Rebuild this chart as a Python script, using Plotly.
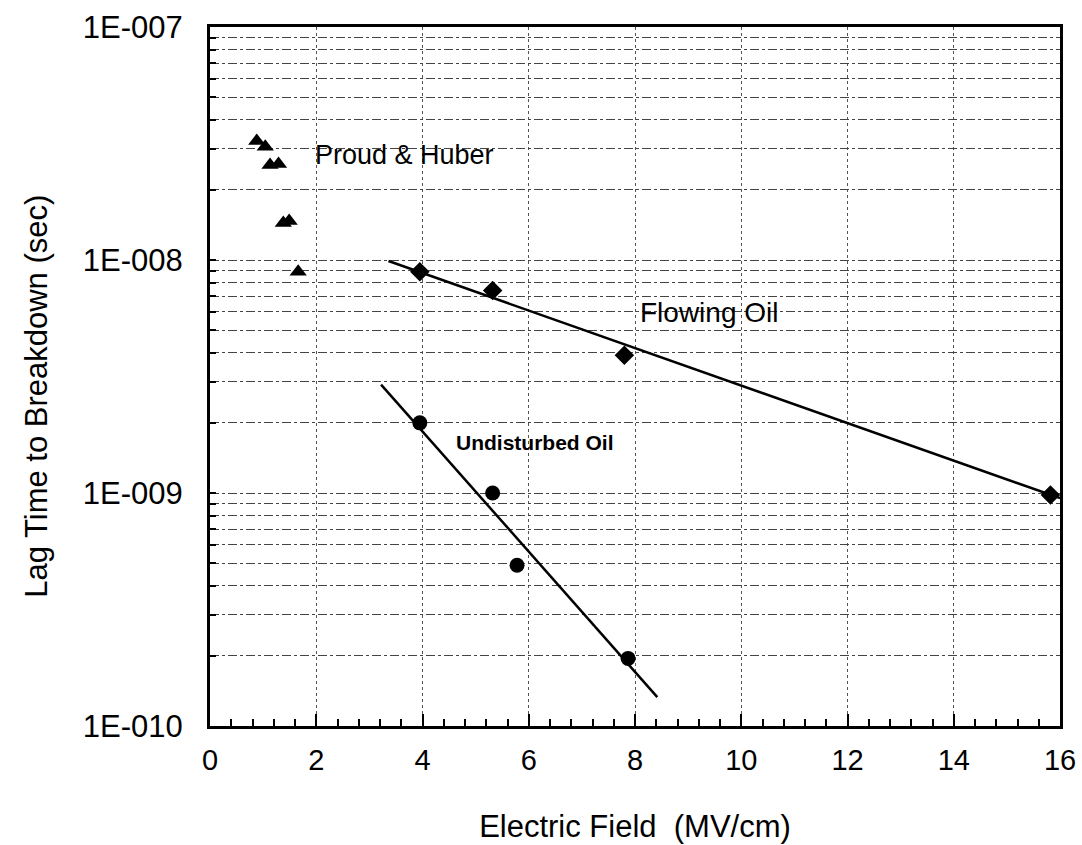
import plotly.graph_objects as go

# ---- data ----
proud_x = [0.88, 1.04, 1.13, 1.29, 1.38, 1.49, 1.66]
proud_y = [3.24e-8, 3.06e-8, 2.56e-8, 2.58e-8, 1.44e-8, 1.47e-8, 8.9e-9]

flow_x = [3.95, 5.32, 7.80, 15.82]
flow_y = [8.9e-9, 7.4e-9, 3.9e-9, 9.8e-10]
flow_fit_x = [3.36, 16.0]
flow_fit_y = [9.9e-9, 9.5e-10]

undist_x = [3.95, 5.32, 5.78, 7.87]
undist_y = [2.0e-9, 1.0e-9, 4.9e-10, 1.95e-10]
undist_fit_x = [3.22, 8.42]
undist_fit_y = [2.92e-9, 1.33e-10]

x_ticks = [0, 2, 4, 6, 8, 10, 12, 14, 16]
y_decades = [-10, -9, -8, -7]
y_decade_labels = ["1E-010", "1E-009", "1E-008", "1E-007"]

FONT = "Liberation Sans, Arial, sans-serif"

# y tick values: every 1..9 in each decade, labels only on decades
y_tickvals, y_ticktext = [], []
for i, e in enumerate(y_decades):
    for k in range(1, 10):
        if e == y_decades[-1] and k > 1:
            break
        y_tickvals.append(k * 10.0 ** e)
        y_ticktext.append(y_decade_labels[i] if k == 1 else "")

fig = go.Figure()

fig.add_trace(go.Scatter(x=proud_x, y=proud_y, mode="markers",
                         marker=dict(symbol="triangle-up", size=15, color="black"),
                         name="Proud & Huber"))
fig.add_trace(go.Scatter(x=flow_fit_x, y=flow_fit_y, mode="lines",
                         line=dict(color="black", width=2.5), name="Flowing Oil fit"))
fig.add_trace(go.Scatter(x=flow_x, y=flow_y, mode="markers",
                         marker=dict(symbol="diamond", size=15, color="black"),
                         name="Flowing Oil"))
fig.add_trace(go.Scatter(x=undist_fit_x, y=undist_fit_y, mode="lines",
                         line=dict(color="black", width=2.5), name="Undisturbed Oil fit"))
fig.add_trace(go.Scatter(x=undist_x, y=undist_y, mode="markers",
                         marker=dict(symbol="circle", size=15, color="black"),
                         name="Undisturbed Oil"))

fig.add_annotation(x=1.94, y=0.817, xref="x", yref="paper", text="Proud &amp; Huber",
                   showarrow=False, xanchor="left", yanchor="middle",
                   font=dict(family=FONT, size=27, color="black"))
fig.add_annotation(x=8.06, y=0.592, xref="x", yref="paper", text="Flowing Oil",
                   showarrow=False, xanchor="left", yanchor="middle",
                   font=dict(family=FONT, size=28, color="black"))
fig.add_annotation(x=4.59, y=0.405, xref="x", yref="paper", text="<b>Undisturbed Oil</b>",
                   showarrow=False, xanchor="left", yanchor="middle",
                   font=dict(family=FONT, size=21, color="black"))
# y-axis title (placed to match the reference, slightly below plot centre)
fig.add_annotation(x=-0.205, y=0.472, xref="paper", yref="paper",
                   text="Lag Time to Breakdown (sec)", textangle=-90,
                   showarrow=False, xanchor="center", yanchor="middle",
                   font=dict(family=FONT, size=31, color="black"))

fig.update_layout(
    width=1082, height=845,
    margin=dict(l=210, r=22, t=27, b=119),
    paper_bgcolor="white", plot_bgcolor="white",
    showlegend=False,
    font=dict(family=FONT, color="black"),
)

fig.update_xaxes(
    range=[0, 16], tickvals=x_ticks, ticks="inside", ticklen=12, tickwidth=2,
    tickcolor="black", automargin=False, ticklabelstandoff=6,
    minor=dict(dtick=0.4, ticks="inside", ticklen=7, tickwidth=1.5, tickcolor="black",
               showgrid=False),
    showgrid=True, gridcolor="#555555", gridwidth=1, griddash="dot",
    showline=True, linecolor="black", linewidth=3, mirror=True,
    zeroline=False,
    tickfont=dict(family=FONT, size=29, color="black"),
    title=dict(text="Electric Field  (MV/cm)", standoff=41,
               font=dict(family=FONT, size=31, color="black")),
)

fig.update_yaxes(
    type="log", range=[-10, -7],
    tickvals=y_tickvals, ticktext=y_ticktext,
    ticks="inside", ticklen=6, tickwidth=1.5, tickcolor="black",
    automargin=False, ticklabelstandoff=18,
    showgrid=True, gridcolor="#444444", gridwidth=1, griddash="dashdot",
    showline=True, linecolor="black", linewidth=3, mirror=True,
    zeroline=False,
    tickfont=dict(family=FONT, size=31, color="black"),
)

fig.write_html(
    "out.html",
    config={"displayModeBar": False},
    post_script="document.body.style.margin='0';document.body.style.overflow='hidden';",
)
